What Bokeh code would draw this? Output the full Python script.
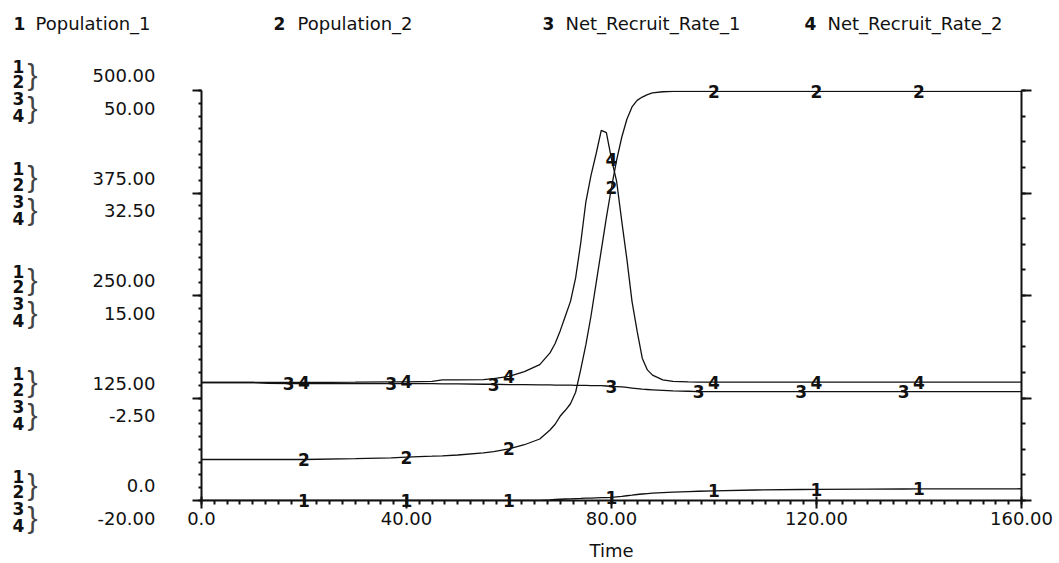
import numpy as np
from bokeh.plotting import figure
from bokeh.models import (Range1d, LinearAxis, SingleIntervalTicker, ColumnDataSource)
from bokeh.core.properties import value
from bokeh.embed import file_html
from bokeh.resources import INLINE

# ---------------- data ----------------
time = [0, 10, 13, 17, 20, 30, 37, 40, 45, 47,
        50, 55, 57, 60, 63, 66, 68, 69, 70, 71,
        72, 73, 74, 75, 76, 77, 78, 79, 80, 81,
        82, 83, 84, 85, 86, 87, 88, 90, 92, 95,
        97, 100, 108, 117, 120, 130, 137, 140, 150, 160]
population_1 = [0, 0, 0, 0, 0, 0, 0, 0, 0, 0,
                0, 0, 0, 0, 0, 0, 0.6, 1.2, 1.5, 1.8,
                2.0, 2.3, 2.5, 2.8, 3.0, 3.2, 3.4, 3.6, 3.8, 4.4,
                5.0, 5.8, 6.5, 7.3, 7.9, 8.5, 9.0, 9.7, 10.3, 10.9,
                11.3, 11.8, 12.8, 13.4, 13.6, 13.9, 14.0, 14.1, 14.2, 14.3]
population_2 = [50, 50, 50, 50, 50, 51, 52, 53, 54, 54.5,
                55.5, 58, 59.5, 63, 68, 75, 86, 93, 103, 110,
                118, 132, 160, 190, 225, 265, 305, 345, 382, 415,
                443, 465, 480, 488, 492, 495, 497, 498.5, 499, 499,
                499, 499, 499, 499, 499, 499, 499, 499, 499, 499]
net_recruit_rate_1 = [0.15, 0.15, 0.0, -0.05, -0.05, -0.05, -0.05, -0.05, -0.05, -0.1,
                      -0.1, -0.15, -0.15, -0.2, -0.2, -0.25, -0.25, -0.3, -0.3, -0.3,
                      -0.3, -0.35, -0.35, -0.35, -0.4, -0.4, -0.4, -0.45, -0.5, -0.55,
                      -0.6, -0.7, -0.8, -0.9, -1.0, -1.05, -1.1, -1.2, -1.3, -1.35,
                      -1.4, -1.4, -1.4, -1.4, -1.4, -1.4, -1.4, -1.4, -1.4, -1.4]
net_recruit_rate_2 = [0.15, 0.15, 0.15, 0.15, 0.15, 0.2, 0.25, 0.25, 0.35, 0.6,
                      0.6, 0.65, 0.8, 1.2, 2.0, 3.2, 5.2, 6.8, 9.0, 11.5,
                      14.0, 18.0, 24.0, 31.0, 35.5, 39.2, 43.2, 42.8, 38.3, 34.5,
                      27.7, 21.2, 14.0, 8.9, 4.3, 2.3, 1.4, 0.6, 0.35, 0.25,
                      0.2, 0.2, 0.2, 0.2, 0.2, 0.2, 0.2, 0.2, 0.2, 0.2]

series_names = ["Population_1", "Population_2", "Net_Recruit_Rate_1", "Net_Recruit_Rate_2"]
series_numbers = ["1", "2", "3", "4"]

x_ticks = [0, 40, 80, 120, 160]
x_tick_labels = ["0.0", "40.00", "80.00", "120.00", "160.00"]
pop_ticks = [0, 125, 250, 375, 500]
pop_tick_labels = ["0.0", "125.00", "250.00", "375.00", "500.00"]
rate_ticks = [-20, -2.5, 15, 32.5, 50]
rate_tick_labels = ["-20.00", "-2.50", "15.00", "32.50", "50.00"]

marker_times_std = [20, 40, 60, 80, 100, 120, 140]
marker_times_3 = [17, 37, 57, 80, 97, 117, 137]

# ---------------- layout ----------------
W, H = 1059, 563
L, R, T, B = 201, 38, 90, 62
FW, FH = W - L - R, H - T - B
X0, X1, P0, P1, R0, R1 = 0, 160, 0, 500, -20, 50
FONT = "DejaVu Sans"
INK = "#111111"

p = figure(width=W, height=H, x_range=Range1d(X0, X1), y_range=Range1d(P0, P1),
           output_backend="svg", toolbar_location=None,
           min_border_left=L, min_border_right=R, min_border_top=T, min_border_bottom=B)
p.extra_y_ranges = {"rate": Range1d(R0, R1)}
p.xgrid.visible = False
p.ygrid.visible = False
p.outline_line_color = None
p.background_fill_color = "white"
p.border_fill_color = "white"

# bottom axis
xa = p.xaxis[0]
xa.ticker = SingleIntervalTicker(interval=40, num_minor_ticks=16)
xa.major_label_overrides = {t: s for t, s in zip(x_ticks, x_tick_labels)}
xa.axis_label = "Time"
xa.axis_label_text_font = FONT
xa.axis_label_text_font_size = "18px"
xa.axis_label_text_font_style = "normal"
xa.axis_label_text_color = INK
xa.axis_label_standoff = 12
xa.major_label_text_font = FONT
xa.major_label_text_font_size = "18px"
xa.major_label_text_color = INK
xa.major_label_standoff = 3
xa.axis_line_width = 2
xa.axis_line_color = INK
xa.major_tick_in = 4
xa.major_tick_out = 8
xa.minor_tick_in = 0
xa.minor_tick_out = 4
xa.major_tick_line_width = 2
xa.minor_tick_line_width = 2
xa.major_tick_line_color = INK
xa.minor_tick_line_color = INK

# left axis (ticks; the two value scales are written as texts below)
ya = p.yaxis[0]
ya.ticker = SingleIntervalTicker(interval=125, num_minor_ticks=8)
ya.major_label_overrides = {v: "" for v in pop_ticks}
ya.axis_line_width = 2
ya.axis_line_color = INK
ya.major_tick_in = 0
ya.major_tick_out = 9
ya.minor_tick_in = 0
ya.minor_tick_out = 3
ya.major_tick_line_width = 2
ya.minor_tick_line_width = 2
ya.major_tick_line_color = INK
ya.minor_tick_line_color = INK

# right axis
ra = LinearAxis(ticker=SingleIntervalTicker(interval=125, num_minor_ticks=4),
                major_label_overrides={v: "" for v in pop_ticks})
ra.axis_line_width = 2
ra.axis_line_color = INK
ra.major_tick_in = 0
ra.major_tick_out = 10
ra.minor_tick_in = 0
ra.minor_tick_out = 4
ra.major_tick_line_width = 2
ra.minor_tick_line_width = 2
ra.major_tick_line_color = INK
ra.minor_tick_line_color = INK
p.add_layout(ra, "right")

# ---------------- curves ----------------
src = ColumnDataSource(dict(t=time, p1=population_1, p2=population_2,
                            r1=net_recruit_rate_1, r2=net_recruit_rate_2))
LW = 1.3
p.line("t", "p1", source=src, line_color=INK, line_width=LW)
p.line("t", "p2", source=src, line_color=INK, line_width=LW)
p.line("t", "r1", source=src, line_color=INK, line_width=LW, y_range_name="rate")
p.line("t", "r2", source=src, line_color=INK, line_width=LW, y_range_name="rate")

idx = {t: i for i, t in enumerate(time)}

def marker_set(times, vals, num, rng="default"):
    s = ColumnDataSource(dict(x=times, y=[vals[idx[t]] for t in times], text=[num] * len(times)))
    p.text(x="x", y="y", text="text", source=s, y_range_name=rng, level="overlay",
           text_font=value(FONT), text_font_style="bold", text_font_size="17px",
           text_align="center", text_baseline="middle", text_color=INK)

marker_set(marker_times_std, population_1, "1")
marker_set(marker_times_std, population_2, "2")
marker_set(marker_times_3, net_recruit_rate_1, "3", "rate")
marker_set(marker_times_std, net_recruit_rate_2, "4", "rate")

# ---------------- texts outside the frame ----------------
def data_x(px):
    return X0 + (px - L) * (X1 - X0) / FW

def data_y(py):
    return P0 + (H - B - py) * (P1 - P0) / FH

PX_POP = (P1 - P0) / FH     # data units of the population scale per pixel
PX_RATE = (R1 - R0) / FH    # data units of the rate scale per pixel

def texts(xs, ys, strs, rng="default", size="18px", style="normal", align="left",
          baseline="middle", font=FONT, color=INK):
    s = ColumnDataSource(dict(x=xs, y=ys, text=strs))
    p.text(x="x", y="y", text="text", source=s, y_range_name=rng, level="overlay",
           text_font=value(font), text_font_size=size, text_font_style=style,
           text_align=align, text_baseline=baseline, text_color=color)

# legend on top
digit_px = [13, 273, 542, 804]
name_px = [35, 297, 565, 827]
texts([data_x(v) for v in digit_px], [data_y(22.5)] * 4, series_numbers,
      size="17px", style="bold")
texts([data_x(v) for v in name_px], [data_y(22.5)] * 4, series_names)

# value labels of both scales (population above each tick, rate below it)
texts([data_x(155)] * len(pop_ticks), [v + 15 * PX_POP for v in pop_ticks],
      pop_tick_labels, align="right")
texts([data_x(155)] * len(rate_ticks), [v - 18 * PX_RATE for v in rate_ticks],
      rate_tick_labels, rng="rate", align="right")

# series numbers stacked beside each tick, paired by braces
digit_offsets = [24.5, 9, -8.5, -25.5]
dxs, dys, dts = [], [], []
for v in pop_ticks:
    for num, off in zip(series_numbers, digit_offsets):
        dxs.append(data_x(18)); dys.append(v + off * PX_POP); dts.append(num)
texts(dxs, dys, dts, size="17px", style="bold", align="center")

bxs, bys = [], []
for v in pop_ticks:
    for off in [16.5, -17]:
        bxs.append(data_x(32)); bys.append(v + off * PX_POP)
texts(bxs, bys, ["}"] * len(bxs), size="30px", align="center",
      font="Liberation Sans", color="#444444")

open("out.html", "w").write(file_html(p, INLINE))
